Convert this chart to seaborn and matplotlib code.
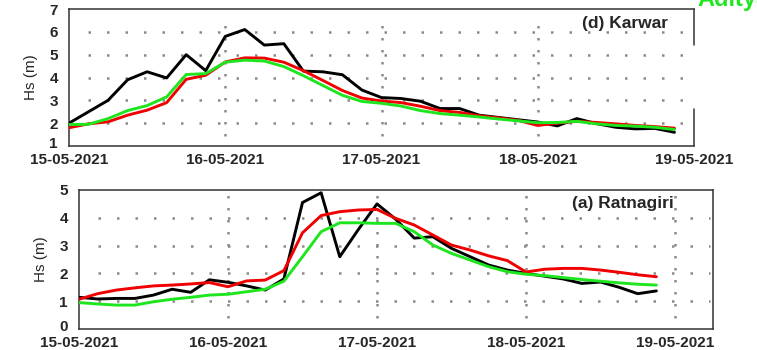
import numpy as np
import pandas as pd
import matplotlib
matplotlib.use("Agg")
import matplotlib.pyplot as plt
import matplotlib.transforms as mtransforms
import seaborn as sns

# ---- data: significant wave height (m), 3-hourly from 15-05-2021 00 UTC ----
date_labels = ["15-05-2021", "16-05-2021", "17-05-2021", "18-05-2021", "19-05-2021"]
hours = list(range(0, 96, 3))

karwar_obs = [2.0, 2.5, 3.0, 3.9, 4.25, 3.98, 5.0, 4.3, 5.8, 6.1, 5.42, 5.48,
              4.28, 4.25, 4.12, 3.45, 3.12, 3.08, 2.96, 2.64, 2.64, 2.35, 2.25, 2.15,
              2.05, 1.88, 2.2, 1.98, 1.82, 1.75, 1.77, 1.6]
karwar_red = [1.8, 1.97, 2.06, 2.35, 2.57, 2.9, 3.92, 4.1, 4.68, 4.86, 4.85, 4.67,
              4.3, 3.87, 3.43, 3.1, 2.97, 2.9, 2.74, 2.55, 2.47, 2.32, 2.23, 2.12,
              1.9, 2.0, 2.08, 2.03, 1.97, 1.9, 1.85, 1.78]
karwar_green = [1.94, 1.95, 2.2, 2.55, 2.77, 3.15, 4.13, 4.17, 4.67, 4.76, 4.72, 4.48,
                4.08, 3.65, 3.22, 2.95, 2.87, 2.75, 2.55, 2.42, 2.35, 2.27, 2.18, 2.1,
                2.02, 2.03, 2.08, 1.97, 1.9, 1.87, 1.82, 1.72]

ratnagiri_obs = [1.14, 1.08, 1.1, 1.1, 1.22, 1.43, 1.32, 1.77, 1.68, 1.55, 1.4, 1.8,
                 4.55, 4.9, 2.6, 3.58, 4.5, 3.95, 3.27, 3.32, 2.9, 2.6, 2.3, 2.12,
                 2.0, np.nan, 1.8, 1.64, 1.69, 1.5, 1.27, 1.37]
ratnagiri_red = [1.07, 1.27, 1.4, 1.48, 1.55, 1.58, 1.62, 1.67, 1.52, 1.73, 1.76, 2.1,
                 3.46, 4.08, 4.22, 4.28, 4.3, 3.98, 3.74, 3.38, 3.02, 2.84, 2.63, 2.46,
                 2.05, 2.15, 2.18, 2.18, 2.12, 2.04, 1.95, 1.88]
ratnagiri_green = [0.95, 0.9, 0.86, 0.86, 0.98, 1.07, 1.14, 1.22, 1.25, 1.34, 1.43, 1.72,
                   2.6, 3.5, 3.82, 3.82, 3.8, 3.8, 3.5, 3.02, 2.72, 2.48, 2.24, 2.06,
                   1.97, 1.92, 1.85, 1.78, 1.72, 1.66, 1.61, 1.58]

series_names = ["obs", "red", "green"]
palette = {"obs": "#000000", "red": "#f00000", "green": "#1ee61e"}
widths = {"obs": 2.1, "red": 2.1, "green": 2.1}

sns.set_style("white")
plt.rcParams["font.family"] = ["Liberation Sans", "DejaVu Sans"]

fig = plt.figure(figsize=(7.57, 3.5), dpi=100)
W, H = 757.0, 350.0


def make_frame(obs, red, green):
    days = np.array(hours) / 24.0
    parts = []
    for name, vals in zip(series_names, (obs, red, green)):
        parts.append(pd.DataFrame({"day": days, "hs": vals, "series": name}))
    return pd.concat(parts, ignore_index=True)


def ax_at(x0, y0, x1, y1):
    return fig.add_axes([x0 / W, 1 - y1 / H, (x1 - x0) / W, (y1 - y0) / H])


DOT = dict(color="#8a8a8a", linewidth=1.8, solid_capstyle="butt", zorder=1)


def style_axes(ax, ylim, yticks, xmax, hgrid, vgrid, hx, vy):
    ax.set_xlim(0, xmax)
    ax.set_ylim(*ylim)
    ax.set_yticks(yticks)
    ax.set_xticks(range(len(date_labels)))
    ax.set_xticklabels(date_labels)
    ax.tick_params(axis="both", direction="out", length=3, width=1,
                   color="#333333", labelsize=11)
    ax.tick_params(axis="x", pad=2)
    ax.tick_params(axis="y", pad=5)
    for lab in ax.get_xticklabels() + ax.get_yticklabels():
        lab.set_fontweight("bold")
    # lift the lowest value label a touch so it clears the date beneath it
    low = ax.get_yticklabels()[0]
    low.set_transform(low.get_transform()
                      + mtransforms.ScaledTranslation(0, 2.5 / 72, fig.dpi_scale_trans))
    ax.set_xlabel("")
    ax.set_ylabel("Hs (m)", fontsize=11, labelpad=8)
    for sp in ax.spines.values():
        sp.set_color("#333333")
        sp.set_linewidth(1.1)
    for y in hgrid:
        ax.axhline(y, xmin=hx[0], xmax=hx[1], linestyle=(0, (1.0, 6.4)), **DOT)
    for x in vgrid:
        ax.axvline(x, ymin=vy[0], ymax=vy[1], linestyle=(0, (1.0, 3.8)), **DOT)
    legend = ax.get_legend()
    if legend is not None:
        legend.remove()


# ---- upper panel: Karwar ----
ax1 = ax_at(69, 9, 694, 146)
df1 = make_frame(karwar_obs, karwar_red, karwar_green)
for name in series_names:
    sns.lineplot(data=df1[df1.series == name], x="day", y="hs", color=palette[name],
                 linewidth=widths[name], ax=ax1, zorder=3)
style_axes(ax1, (1, 7), range(1, 8), 4, [2, 3, 4, 5, 6], [1, 2, 3],
           (0.03, 0.995), (0.073, 0.94))
ax1.text(0.82, 0.895, "(d) Karwar", transform=ax1.transAxes, fontsize=12.5,
         fontweight="bold", va="center", ha="left")
# right frame edge is broken in the middle
ax1.spines["right"].set_visible(False)
for seg in ((0.74, 1.0), (0.0, 0.27)):
    ax1.plot([1, 1], seg, transform=ax1.transAxes, color="#333333", lw=1.1,
             clip_on=False, zorder=5)

# ---- lower panel: Ratnagiri ----
ax2 = ax_at(79, 190, 713, 329)
df2 = make_frame(ratnagiri_obs, ratnagiri_red, ratnagiri_green)
for name in series_names:
    sns.lineplot(data=df2[df2.series == name], x="day", y="hs", color=palette[name],
                 linewidth=widths[name], ax=ax2, zorder=3)
style_axes(ax2, (0, 5), range(0, 6), 4.255, [1, 2, 3, 4], [1, 2, 3, 4],
           (0.03, 0.995), (0.08, 0.97))
ax2.text(0.778, 0.905, "(a) Ratnagiri", transform=ax2.transAxes, fontsize=12.5,
         fontweight="bold", va="center", ha="left")

# neighbouring panel heading, clipped by the top edge
fig.text(697 / W, 1 - 6 / H, "Aditya", color="#22e622", fontsize=17,
         fontweight="bold", ha="left", va="baseline")

fig.savefig("out.png", dpi=100)
